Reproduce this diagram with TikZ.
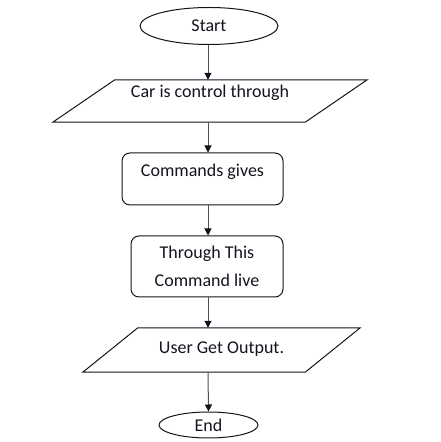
\documentclass[tikz,border=0pt]{standalone}
\usepackage{fontspec}
\setmainfont{Carlito}
\usetikzlibrary{shapes.geometric,arrows.meta}
\definecolor{linkgray}{RGB}{80,80,88}
\definecolor{ink}{RGB}{20,20,32}

\begin{document}
\begin{tikzpicture}[x=1pt,y=1pt,
		every node/.style={font=\fontsize{18}{28}\selectfont,inner sep=0pt,align=center,text=ink},
		term/.style={ellipse,draw=ink,line width=1pt},
		io/.style={rectangle,text height=12pt},
		proc/.style={rectangle,rounded corners=8pt,draw=ink,line width=1pt},
		border/.style={draw=ink,line width=1pt,line join=miter},
		link/.style={draw=linkgray,line width=1pt,-{Triangle[length=7pt,width=7pt,color=ink]}}]
	\useasboundingbox (0,0) rectangle (440,442);
	\coordinate (mid) at (208,0);
	% shapes, top to bottom
	\node [term,minimum width=138pt,minimum height=37pt] (0) at (209,416) {Start};
	\node [io,minimum width=252pt,minimum height=42pt,text depth=18pt] (1) at (210,341) {Car is control through};
	\draw [border] ([xshift=31pt]1.north west) -- ([xshift=31pt]1.north east) -- ([xshift=-31pt]1.south east) -- ([xshift=-31pt]1.south west) -- cycle;
	\node [proc,minimum width=161pt,minimum height=52pt,text height=12pt,text depth=16pt] (2) at (202.5,263) {Commands gives};
	\node [proc,minimum width=152pt,minimum height=61pt] (3) at (207,175.5) {Through This\\Command live};
	\node [io,minimum width=222pt,minimum height=44pt,text depth=4pt] (4) at (221.5,92) {User Get Output.};
	\draw [border] ([xshift=27.5pt]4.north west) -- ([xshift=27.5pt]4.north east) -- ([xshift=-27.5pt]4.south east) -- ([xshift=-27.5pt]4.south west) -- cycle;
	\node [term,minimum width=99pt,minimum height=26pt] (5) at (208.5,17) {End};
	% arrows
	\draw [link] (0.south -| mid) -- (1.north -| mid);
	\draw [link] (1.south -| mid) -- (2.north -| mid);
	\draw [link] (2.south -| mid) -- (3.north -| mid);
	\draw [link] (3.south -| mid) -- (4.north -| mid);
	\draw [link] (4.south -| mid) -- (5.north);
\end{tikzpicture}
\end{document}
